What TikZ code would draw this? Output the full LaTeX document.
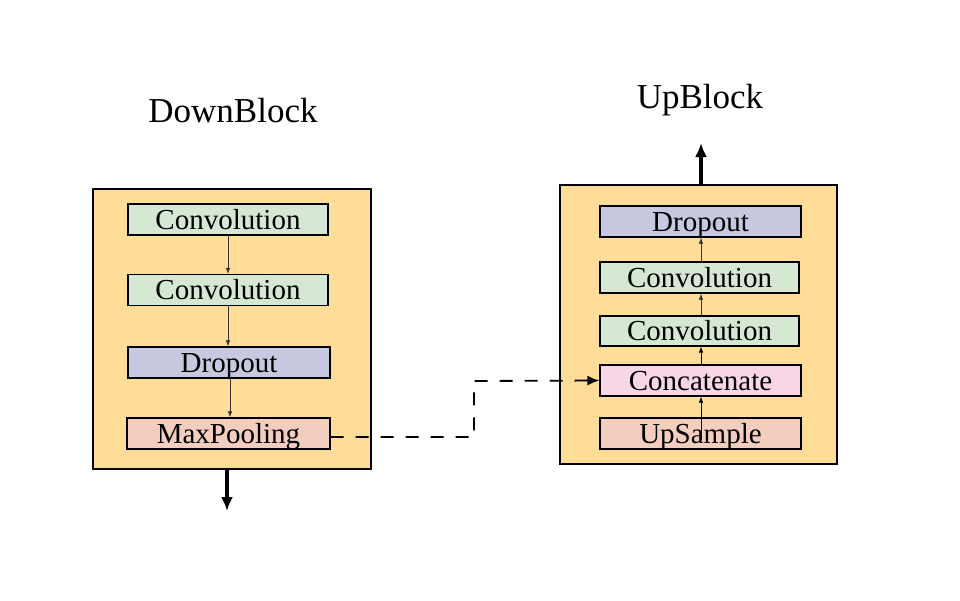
\documentclass[tikz,border=0pt]{standalone}
\usepackage{fontspec}
\setmainfont{Liberation Serif}
\usetikzlibrary{arrows.meta}
\definecolor{outerc}{RGB}{255,221,153}
\definecolor{greenc}{RGB}{214,232,212}
\definecolor{purplec}{RGB}{200,200,224}
\definecolor{peachc}{RGB}{243,206,190}
\definecolor{pinkc}{RGB}{249,214,230}
\tikzset{
  outerbox/.style={draw=black, line width=1.8pt, fill=outerc, minimum width=278pt, minimum height=280pt, inner sep=0pt},
  layerbox/.style={draw=black, line width=1.3pt, minimum width=200pt, minimum height=31pt, inner sep=0pt, text height=24pt, text depth=5pt, font=\fontsize{29}{30}\selectfont},
  thinarrow/.style={draw=black!80, line width=0.7pt, -{Latex[length=6pt,width=4.5pt]}},
  thickarrow/.style={draw=black, line width=3.2pt, -{Latex[length=14pt,width=12pt]}},
  titletext/.style={font=\fontsize{35}{40}\selectfont},
  skip/.style={draw=black, line width=1.8pt, dash pattern=on 13pt off 12pt, -{Latex[length=12pt,width=10pt]}}
}
\begin{document}
\begin{tikzpicture}[x=1pt,y=-1pt]
\useasboundingbox (0,0) rectangle (960,600);
% left block
\node[outerbox] (lb) at (232,329) {};
\node[titletext] (lt) at (233,111) {DownBlock};
\node[layerbox, fill=greenc] (c1) at (228,219.5) {Convolution};
\node[layerbox, fill=greenc] (c2) at (228,290) {Convolution};
\node[layerbox, fill=purplec, minimum width=202pt] (d1) at (229,362.5) {Dropout};
\node[layerbox, fill=peachc, minimum width=203pt] (mp) at (228.5,433.5) {MaxPooling};
\draw[thinarrow] (c1.south) -- (c2.north);
\draw[thinarrow] (c2.south) -- (c2.south |- d1.north);
\draw[thinarrow] ([xshift=1pt]d1.south) -- ([xshift=1pt]d1.south |- mp.north);
\coordinate (lout) at (227,511);
\draw[thickarrow] (lout |- lb.south) -- (lout);
% right block
\node[outerbox, minimum width=277pt, minimum height=279pt] (rb) at (698.5,324.5) {};
\node[titletext] (rt) at (700,100) {UpBlock};
\node[layerbox, fill=purplec, minimum width=201pt] (rd) at (700.5,221.5) {Dropout};
\node[layerbox, fill=greenc, minimum width=199pt] (rc2) at (699.5,277.5) {Convolution};
\node[layerbox, fill=greenc, minimum width=199pt, minimum height=30pt] (rc1) at (699.5,331) {Convolution};
\node[layerbox, fill=pinkc, minimum width=201pt] (cat) at (700.5,380.5) {Concatenate};
\node[layerbox, fill=peachc, minimum width=201pt] (up) at (700.5,433.5) {UpSample};
\coordinate (rin) at (701,440);
\draw[thinarrow, draw=black] (rin) -- (rin |- cat.south);
\draw[thinarrow, draw=black] (rin |- cat.north) -- (rin |- rc1.south);
\draw[thinarrow] (rin |- rc1.north) -- (rin |- rc2.south);
\draw[thinarrow] (rin |- rc2.north) -- (rin |- rd.south);
\coordinate (rout) at (701,143);
\draw[thickarrow] (rout |- rb.north) -- (rout);
% skip connection
\coordinate (mpout) at ([yshift=-3.5pt]mp.east);
\coordinate (bend) at (474,381);
\draw[skip] (mpout) -- (bend |- mpout) -- (bend) -- (cat.west);
\end{tikzpicture}
\end{document}
